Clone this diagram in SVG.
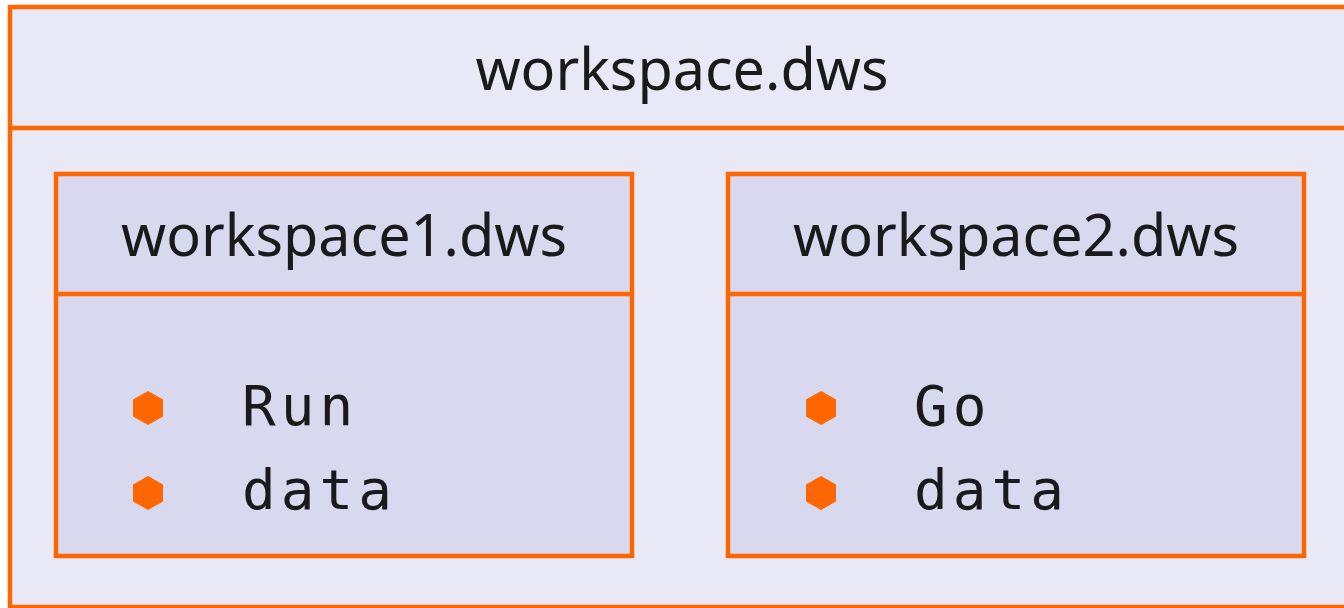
<svg xmlns="http://www.w3.org/2000/svg" width="1344" height="608" viewBox="0 0 1344 608">
  <style>
    .outer { fill: #e8e8f6; stroke: #ff6600; stroke-width: 4.5; }
    .inner { fill: #d8d8ef; stroke: #ff6600; stroke-width: 4.5; }
    .rule { stroke: #ff6600; stroke-width: 4.5; fill: none; }
    .title { font-family: "Noto Sans", Lato, sans-serif; font-size: 57.5px; fill: #1a1a1a; text-anchor: middle; }
    .item { font-family: "DejaVu Sans Mono", "Liberation Mono", monospace; font-size: 56px; fill: #1a1a1a; letter-spacing: 5px; }
    .bullet { fill: #ff6600; }
  </style>
  <defs>
    <polygon id="hex" points="0,-17 15,-8.5 15,8.5 0,17 -15,8.5 -15,-8.5"/>
  </defs>

  <!-- workspace.dws container -->
  <g id="workspace">
    <rect class="outer" x="10" y="7" width="1344" height="600"/>
    <line class="rule" x1="10" y1="128" x2="1344" y2="128"/>
    <text class="title" x="682" y="90">workspace.dws</text>
  </g>

  <!-- workspace1.dws -->
  <g id="workspace1">
    <rect class="inner" x="56" y="174" width="576" height="382"/>
    <line class="rule" x1="56" y1="294" x2="632" y2="294"/>
    <text class="title" x="344" y="256">workspace1.dws</text>
    <use class="bullet" href="#hex" x="148" y="408"/>
    <use class="bullet" href="#hex" x="148" y="493"/>
    <text class="item" x="242" y="425">Run</text>
    <text class="item" x="242" y="509">data</text>
  </g>

  <!-- workspace2.dws -->
  <g id="workspace2">
    <rect class="inner" x="728" y="174" width="576" height="382"/>
    <line class="rule" x1="728" y1="294" x2="1304" y2="294"/>
    <text class="title" x="1016" y="256">workspace2.dws</text>
    <use class="bullet" href="#hex" x="821" y="408"/>
    <use class="bullet" href="#hex" x="821" y="493"/>
    <text class="item" x="914" y="425">Go</text>
    <text class="item" x="914" y="509">data</text>
  </g>

  <g id="connectors"/>
</svg>
